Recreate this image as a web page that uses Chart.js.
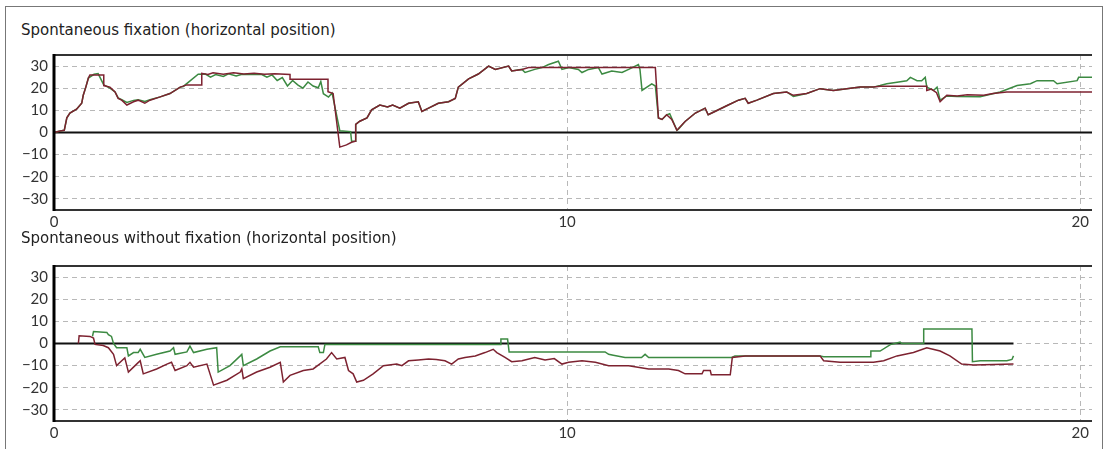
<!DOCTYPE html>
<html>
<head>
<meta charset="utf-8">
<script src="https://cdn.jsdelivr.net/npm/chart.js@4"></script>
<style>
  body { margin: 0; background: #fff; width: 1110px; height: 449px; overflow: hidden; position: relative; font-family: "DejaVu Sans", sans-serif; }
  #frame { position: absolute; left: 5px; top: 6px; width: 1096px; height: 460px; border: 1px solid #777; }
  .title { position: absolute; left: 21px; font-size: 15px; line-height: 18px; color: #222; white-space: nowrap; }
  .box { position: absolute; left: 0; width: 1110px; height: 195px; }
</style>
</head>
<body>
<div id="frame"></div>
<div class="title" style="top:21px">Spontaneous fixation (horizontal position)</div>
<div class="box" style="top:40px"><canvas id="fixChart"></canvas></div>
<div class="title" style="top:229px">Spontaneous without fixation (horizontal position)</div>
<div class="box" style="top:251px"><canvas id="noFixChart"></canvas></div>

<script>
// tick labels (seconds / degrees)
const xTicks = [0, 10, 20];
const yTicks = [-30, -20, -10, 0, 10, 20, 30];

// spontaneous fixation - red trace
const fixRedX = [0, 0.12, 0.2, 0.25, 0.31, 0.44, 0.54, 0.57, 0.62, 0.67, 0.7, 0.97, 0.97, 1.09, 1.19, 1.25, 1.32, 1.42, 1.55, 1.64, 1.77, 1.87, 2.07, 2.26, 2.46, 2.59, 2.88, 2.88,
  3.0, 3.1, 3.3, 3.5, 3.7, 3.9, 4.1, 4.3, 4.6, 4.6, 5.34, 5.34, 5.44, 5.57, 5.7, 5.8, 5.87, 5.88, 5.96, 6.1, 6.19, 6.35, 6.5, 6.6, 6.74, 6.91, 7.1, 7.17, 7.3, 7.49, 7.69, 7.82, 7.88,
  8.08, 8.27, 8.47, 8.6, 8.86, 8.92, 9.12, 9.25, 11.72, 11.78, 11.85, 11.94, 12.04, 12.14, 12.3, 12.5, 12.69, 12.75, 12.88, 13.14, 13.34, 13.47, 13.53, 13.7, 14.02, 14.28, 14.41,
  14.67, 14.93, 15.19, 15.45, 15.71, 15.97, 16.1, 17.01, 17.01, 17.1, 17.2, 17.27, 17.4, 17.6, 17.8, 18.12, 18.3, 18.57, 20.23];
const fixRedY = [0, 0.7, 1, 6.6, 8.8, 10.5, 13.2, 16.8, 20.5, 24.6, 26, 26, 21.2, 20.5, 18.3, 15.4, 14.6, 12.4, 13.9, 14.6, 13.2, 14.6, 16.1, 17.6, 20.5, 21.5, 21.5, 26.7,
  26.2, 27, 26.3, 27, 26.4, 26.8, 26.3, 26.5, 26.2, 24, 24, 18.4, 17.6, -6.6, -5.6, -4.4, -4, 3.7, 5.1, 6.6, 10.2, 12.4, 11.5, 12.4, 11, 13.2, 13.9, 9.5, 11, 13.2, 13.9, 15.4, 20.5,
  24.2, 26.4, 30, 28.5, 30, 27.8, 28.5, 29.3, 29.3, 6.6, 5.9, 8, 5.9, 1, 5, 8.8, 11, 8, 9.5, 12.4, 14.6, 15.4, 13.2, 14.6, 17.6, 18.3, 16.8,
  17.6, 19.8, 19, 19.8, 20.5, 20.5, 20.9, 20.9, 19, 19.6, 18, 13.9, 16.8, 16.5, 17, 16.8, 17.6, 18.3, 18.3];

// spontaneous fixation - green trace
const fixGreenX = [0, 0.12, 0.2, 0.25, 0.31, 0.44, 0.54, 0.57, 0.62, 0.67, 0.78, 0.86, 0.97, 1.09, 1.19, 1.25, 1.32, 1.42, 1.55, 1.64, 1.77, 1.87, 2.07, 2.26, 2.46, 2.52, 2.81,
  2.95, 3.05, 3.15, 3.3, 3.4, 3.55, 3.65, 3.9, 4.05, 4.15, 4.25, 4.35, 4.45, 4.55, 4.65, 4.75, 4.85, 4.95, 5.05, 5.15, 5.2, 5.25, 5.35, 5.42, 5.57, 5.78, 5.8, 5.87, 5.88, 5.96,
  6.1, 6.19, 6.35, 6.5, 6.6, 6.74, 6.91, 7.1, 7.17, 7.3, 7.49, 7.69, 7.82, 7.88, 8.08, 8.27, 8.47, 8.6, 8.86, 8.92, 9.12, 9.18, 9.37, 9.51, 9.64, 9.83, 9.9, 10.03, 10.22, 10.29,
  10.42, 10.61, 10.68, 10.87, 11.07, 11.2, 11.39, 11.42, 11.46, 11.65, 11.72, 11.78, 11.85, 11.94, 12.0, 12.14, 12.17, 12.3, 12.5, 12.69, 12.75, 12.88, 13.14, 13.34, 13.47,
  13.53, 13.7, 14.02, 14.28, 14.41, 14.67, 14.93, 15.19, 15.45, 15.71, 15.97, 16.1, 16.23, 16.43, 16.62, 16.69, 16.82, 16.91, 16.98, 17.01, 17.14, 17.21, 17.27, 17.4, 17.6,
  18.05, 18.44, 18.77, 19.03, 19.16, 19.48, 19.55, 19.94, 19.97, 20.23];
const fixGreenY = [0, 0.7, 1, 6.6, 8.8, 10.5, 13.2, 16.8, 20.5, 24.6, 26.3, 26.6, 21.5, 20, 18.3, 15.6, 14.8, 13.6, 14.5, 14.8, 14, 14.8, 16.1, 17.6, 20.5, 20.8, 26.3,
  26.4, 25, 26.2, 25.3, 26.5, 25.5, 26.2, 26.3, 26.2, 25, 26, 23.5, 24.8, 21, 23.5, 21.5, 20, 22.8, 21, 20.2, 23, 17.5, 16, 17.8, 0.8, 0.4, -4, -4, 3.7, 5.1,
  6.6, 10.2, 12.4, 11.5, 12.4, 11, 13.2, 13.9, 9.5, 11, 13.2, 13.9, 15.4, 20.5, 24.2, 26.4, 30, 28.5, 30, 27.8, 28.5, 27.1, 28.5, 29.3, 30.7, 32.2, 28.5, 29.3, 28.5, 27.1,
  28.5, 29.3, 26.4, 27.8, 27.1, 28.5, 30.7, 28.5, 19, 22, 21, 6.6, 5.9, 8, 8.5, 1, 1.5, 5, 8.8, 11, 8, 9.5, 12.4, 14.6, 15.4,
  13.2, 14.6, 17.6, 18.3, 16.3, 17.6, 19.8, 19, 19.8, 20.5, 20.5, 21.2, 22, 22.7, 23.4, 24.9, 23.4, 23.4, 24.9, 20.5, 19, 20.5, 14.6, 16.5, 16.3,
  16.1, 18.3, 21.2, 22, 23.4, 23.4, 22, 23.4, 24.9, 24.9];

// spontaneous without fixation - red trace
const noFixRedX = [0.475, 0.49, 0.7, 0.77, 0.8, 0.96, 1.06, 1.16, 1.22, 1.32, 1.38, 1.45, 1.61, 1.68, 1.74, 2.0, 2.2, 2.29, 2.36, 2.59, 2.65, 2.72, 2.98, 3.11, 3.37, 3.63,
  3.66, 3.69, 3.95, 4.21, 4.41, 4.47, 4.6, 4.86, 5.05, 5.31, 5.41, 5.51, 5.67, 5.74, 5.83, 5.9, 6.03, 6.22, 6.42, 6.68, 6.78, 6.91, 7.1, 7.3, 7.45, 7.62, 7.75, 7.88, 8.01,
  8.21, 8.4, 8.56, 8.63, 8.79, 8.92, 9.12, 9.37, 9.57, 9.75, 9.9, 10.03, 10.29, 10.55, 10.81, 11.2, 11.59, 11.98, 12.17, 12.3, 12.63, 12.66, 12.79, 12.81, 13.18, 13.22,
  13.47, 14.93, 15.0, 15.32, 15.97, 16.17, 16.43, 16.75, 17.01, 17.27, 17.46, 17.69, 17.92, 18.7];
const noFixRedY = [0, 3.5, 3.2, 2.5, -0.4, -0.9, -1.9, -4.9, -10, -7.8, -6.5, -12.9, -9.3, -7.8, -13.7, -11.5, -9.3, -8.5, -12.2, -10, -8.5, -10.7, -9.3, -18.8, -16.6, -12.9,
  -11.5, -15.9, -12.9, -10.7, -8.5, -17.4, -14.4, -12.2, -11.5, -7, -4.1, -7, -6.3, -12.2, -13.7, -17.4, -16.6, -13.7, -10, -9.3, -10, -7.8, -7.4, -7, -7.2, -7.8, -9.3, -7, -6.3,
  -5.6, -4.1, -2.6, -4.1, -6.3, -8.2, -7.8, -6.3, -7.4, -6.8, -9.3, -8.5, -7.8, -8.5, -10, -10, -11.5, -11.5, -12.2, -13.7, -13.7, -12.2, -12.2, -14.1, -14.1, -6.3,
  -5.6, -5.6, -7.8, -8.5, -8.5, -7.8, -5.6, -4.1, -1.9, -3.4, -5.6, -9.3, -9.7, -9.3];

// spontaneous without fixation - green trace
const noFixGreenX = [0.75, 0.77, 1.03, 1.06, 1.12, 1.16, 1.22, 1.42, 1.45, 1.55, 1.64, 1.68, 1.77, 2.0, 2.26, 2.33, 2.36, 2.59, 2.65, 2.72, 2.98, 3.17, 3.2, 3.43, 3.63, 3.66,
  3.69, 3.95, 4.21, 4.41, 5.15, 5.18, 5.25, 5.28, 8.7, 8.71, 8.84, 8.87, 10.74, 10.81, 10.9, 11.13, 11.45, 11.52, 11.59, 13.21, 13.27, 14.93, 15.0, 15.91, 15.92, 16.1, 16.3,
  16.49, 16.52, 16.95, 16.95, 17.89, 17.9, 18.05, 18.57, 18.67, 18.7];
const noFixGreenY = [3.2, 5.4, 5, 4, 3.2, 0, -1.9, -1.9, -5.6, -4.1, -4.1, -2.6, -6.3, -4.9, -3.4, -1.9, -4.9, -3.8, -1.2, -4.1, -2.6, -1.9, -12.9, -10, -5.6, -4.9,
  -10, -7, -3.4, -1.5, -1.5, -4.1, -4.1, -0.4, -0.4, 2, 2, -3.8, -3.8, -4.9, -5.3, -6.3, -6.3, -4.9, -6.3, -6.3, -5.6, -5.6, -6, -6, -3.4, -3.4, -0.5,
  0.6, 0, 0, 6.5, 6.5, -8.2, -7.8, -7.8, -7.2, -5.6];

const toPoints = (xs, ys) => xs.map((x, i) => ({ x: x, y: ys[i] }));

// top/bottom border lines and the thick left axis
const frameLines = {
  id: 'frameLines',
  afterDatasetsDraw(chart) {
    const { ctx, chartArea: a } = chart;
    ctx.save();
    ctx.strokeStyle = '#333';
    ctx.lineWidth = 2;
    ctx.beginPath();
    ctx.moveTo(a.left, a.top); ctx.lineTo(a.right, a.top);
    ctx.moveTo(a.left, a.bottom); ctx.lineTo(a.right, a.bottom);
    ctx.stroke();
    ctx.strokeStyle = '#000';
    ctx.lineWidth = 3;
    ctx.beginPath();
    ctx.moveTo(a.left, a.top - 1); ctx.lineTo(a.left, a.bottom + 1);
    ctx.stroke();
    ctx.restore();
  }
};

function makeChart(id, redX, redY, greenX, greenY) {
  const lastX = Math.max(redX[redX.length - 1], greenX[greenX.length - 1]);
  return new Chart(document.getElementById(id), {
    type: 'line',
    data: {
      datasets: [
        { data: toPoints(redX, redY), borderColor: '#7d2230', borderWidth: 1.5, pointRadius: 0, order: 1 },
        { data: toPoints(greenX, greenY), borderColor: '#3c8a42', borderWidth: 1.5, pointRadius: 0, order: 2 },
        { data: [{ x: 0, y: 0 }, { x: lastX, y: 0 }], borderColor: '#111', borderWidth: 2, pointRadius: 0, order: 3 }
      ]
    },
    options: {
      responsive: true,
      maintainAspectRatio: false,
      animation: false,
      layout: { padding: { top: 8, right: 18, left: 0, bottom: 0 } },
      plugins: { legend: { display: false }, tooltip: { enabled: false } },
      scales: {
        x: {
          type: 'linear', min: 0, max: 20.23,
          afterBuildTicks: s => { s.ticks = xTicks.map(v => ({ value: v })); },
          afterFit: s => { s.height = 25; },
          grid: { color: '#b8b8b8', drawTicks: false },
          border: { display: false, dash: [5, 4] },
          ticks: { color: '#333', padding: 3, font: { family: 'Lato', size: 15 } }
        },
        y: {
          min: -35, max: 35,
          afterBuildTicks: s => { s.ticks = yTicks.map(v => ({ value: v })); },
          afterFit: s => { s.width = 54; },
          grid: { color: '#b8b8b8', drawTicks: false },
          border: { display: false, dash: [5, 4] },
          ticks: {
            color: '#333', padding: 6, font: { family: 'Lato', size: 15 },
            callback: v => v < 0 ? '\u2212' + Math.abs(v) : String(v)
          }
        }
      }
    },
    plugins: [frameLines]
  });
}

makeChart('fixChart', fixRedX, fixRedY, fixGreenX, fixGreenY);
makeChart('noFixChart', noFixRedX, noFixRedY, noFixGreenX, noFixGreenY);
</script>
</body>
</html>
